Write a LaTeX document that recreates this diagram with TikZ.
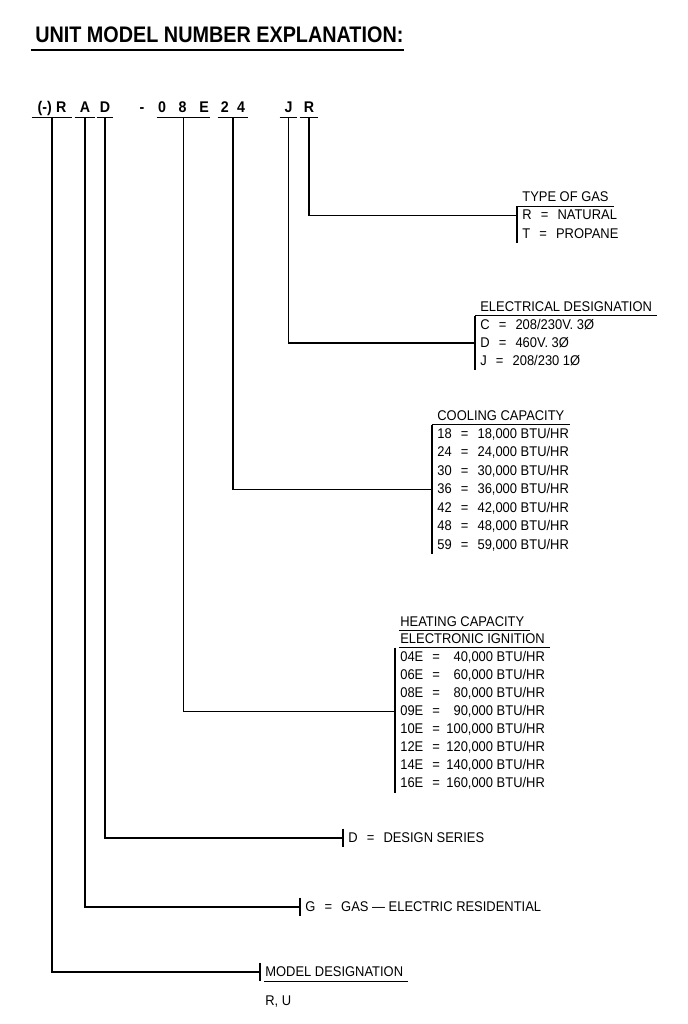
\documentclass[tikz,border=0pt]{standalone}
\usepackage{fontspec}
\setmainfont{Liberation Sans}[FakeStretch=0.92]
\newfontfamily\titlefont{Liberation Sans}[FakeStretch=0.88]
\usetikzlibrary{positioning}
\newcommand{\eq}{\hspace{0.65em}=\hspace{0.65em}}

\begin{document}
\begin{tikzpicture}[x=0.025cm,y=-0.025cm,
  lead/.style={line width=1pt},
  code/.style={font=\bfseries\fontsize{11}{13}\selectfont,inner sep=0pt,
    anchor=base,text depth=0.1cm},
  row/.style={anchor=west,inner xsep=3.6pt,inner ysep=0pt,minimum height=0.45cm,
    text height=7.2pt,text depth=1.5pt,font=\fontsize{10}{12}\selectfont},
  head/.style={row,minimum height=0pt,inner ysep=1.5pt}
]
\useasboundingbox (0,0) rectangle (688,1024);

% Title.
\node[anchor=west,inner sep=0pt,font=\titlefont\bfseries\fontsize{16}{19}\selectfont]
  (title) at (35,35) {UNIT MODEL NUMBER EXPLANATION:};
\draw[line width=1.2pt] ([xshift=-3pt,yshift=-5pt]title.south west)
  -- ([yshift=-5pt]title.south east);

% Model number.
\node[code,minimum width=1cm] (cModel) at (52,113) {(-)\hspace{3pt}R};
\node[code,minimum width=0.5cm] (cType) at (85,113) {A};
\node[code,minimum width=0.4cm] (cSeries) at (105,113) {D};
\node[code] (cDash) at (142,113) {-};
\node[code,minimum width=1.325cm] (cHeat) at (183.5,113) {0\hspace{9pt}8\hspace{9pt}E};
\node[code,minimum width=0.75cm] (cCool) at (233,113) {2\hspace{6pt}4};
\node[code,minimum width=0.425cm] (cElec) at (288.5,113) {J};
\node[code,minimum width=0.45cm] (cGas) at (309,113) {R};
\foreach \n in {cModel,cType,cSeries,cHeat,cCool,cElec,cGas}
  \draw[lead] (\n.south west) -- (\n.south east);

% Type of gas.
\node[row] (gasR) at (517,215.5) {R\eq NATURAL};
\node[row] (gasT) at (517,234) {T\eq PROPANE};
\node[head,above right=0pt and 0pt of gasR.north west] (gasHead) {TYPE OF GAS};
\draw[lead] (gasHead.south west) -- (gasHead.south east);
\draw[lead] (gasR.north west) -- (gasT.south west);
\draw[lead] (cGas.south) |- (gasR.west);

% Electrical designation.
\node[row] (elecC) at (475,325) {C\eq 208/230V. 3Ø};
\node[row] (elecD) at (475,343) {D\eq 460V. 3Ø};
\node[row] (elecJ) at (475,361) {J\eq 208/230 1Ø};
\node[head,above right=0pt and 0pt of elecC.north west] (elecHead) {ELECTRICAL DESIGNATION};
\draw[lead] (elecHead.south west) -- (elecHead.south east);
\draw[lead] (elecC.north west) -- (elecJ.south west);
\draw[lead] (cElec.south) |- (elecD.west);

% Cooling capacity.
\foreach \c [count=\i] in {18,24,30,36,42,48,59}
  \node[row] (cool\i) at (432,{434+(\i-1)*18.5}) {\c\eq\c,000 BTU/HR};
\node[head,above right=0pt and 0pt of cool1.north west] (coolHead) {COOLING CAPACITY};
\draw[lead] (coolHead.south west) -- (coolHead.south east);
\draw[lead] (cool1.north west) -- (cool7.south west);
\draw[lead] (cCool.south) |- (cool4.west);

% Heating capacity.
\foreach \c/\v [count=\i] in {04E/\hphantom{1}40,06E/\hphantom{1}60,08E/\hphantom{1}80,
    09E/\hphantom{1}90,10E/100,12E/120,14E/140,16E/160}
  \node[row] (heat\i) at (395,{657+(\i-1)*18.1})
    {\c\hspace{0.65em}=\hspace{0.45em}\v,000 BTU/HR};
\node[head,above right=0pt and 0pt of heat1.north west] (heatHeadB) {ELECTRONIC IGNITION};
\node[head,above right=0pt and 0pt of heatHeadB.north west] (heatHeadA) {HEATING CAPACITY};
\draw[lead] ([xshift=3pt]heatHeadA.south west) -- (heatHeadA.south east);
\draw[lead] ([xshift=3pt]heatHeadB.south west) -- (heatHeadB.south east);
\draw[lead] (heat1.north west) -- (heat8.south west);
\draw[lead] (cHeat.south) |- (heat4.west);

% Design series and type.
\node[row] (series) at (343,838) {D\eq DESIGN SERIES};
\draw[lead] (series.north west) -- (series.south west);
\draw[lead] (cSeries.south) |- (series.west);
\node[row] (type) at (300,907) {G\eq GAS — ELECTRIC RESIDENTIAL};
\draw[lead] (type.north west) -- (type.south west);
\draw[lead] (cType.south) |- (type.west);

% Model designation.
\node[row] (model) at (260,972) {MODEL DESIGNATION};
\node[row] (modelRU) at (260,1001) {R, U};
\draw[lead] ([xshift=3pt]model.south west) -- (model.south east);
\draw[lead] (model.north west) -- (model.south west);
\draw[lead] (cModel.south) |- (model.west);
\end{tikzpicture}
\end{document}
